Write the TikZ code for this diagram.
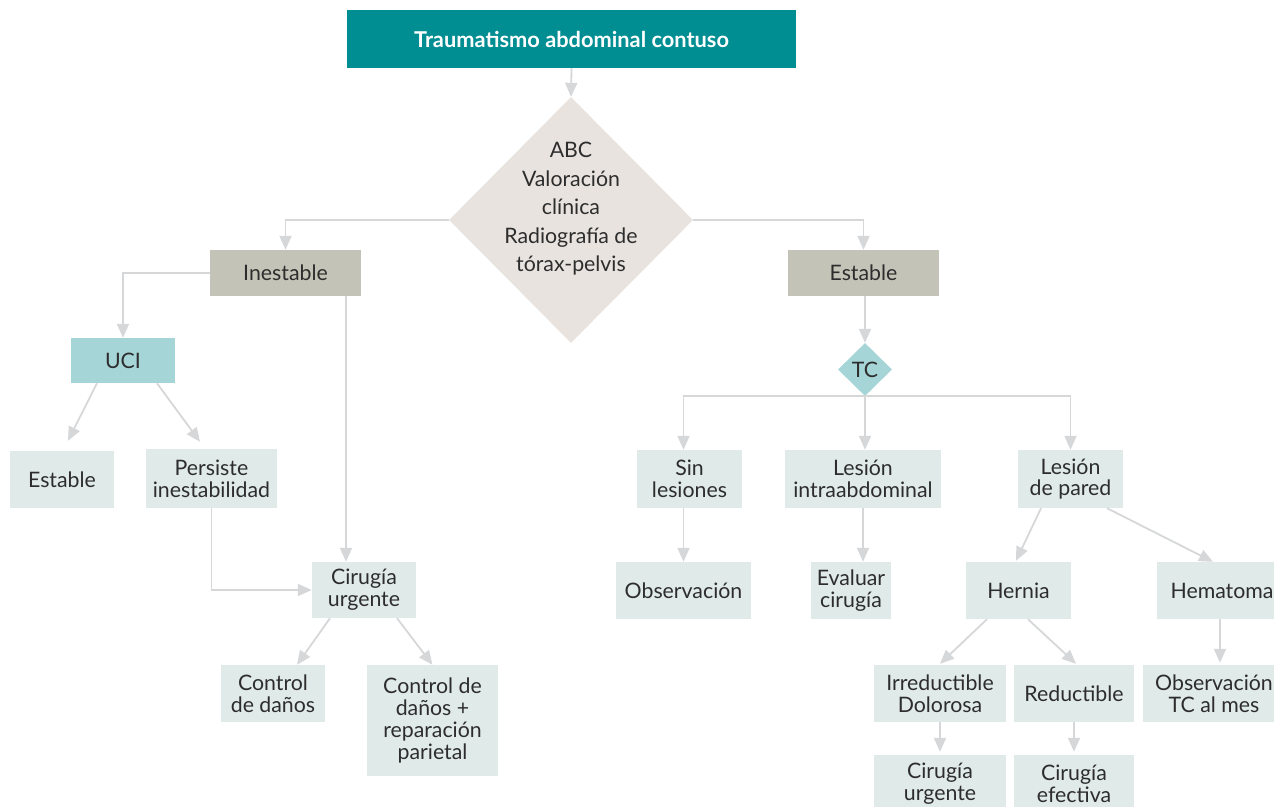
\documentclass[tikz,border=0pt]{standalone}
\usepackage{fontspec}
\setmainfont{Lato}
\usetikzlibrary{arrows.meta,shapes.geometric}
\definecolor{teal}{RGB}{0,142,147}
\definecolor{beige}{RGB}{232,227,222}
\definecolor{greybox}{RGB}{196,195,184}
\definecolor{bluebox}{RGB}{166,213,216}
\definecolor{lightbox}{RGB}{224,234,232}
\definecolor{linecol}{RGB}{213,215,217}
\definecolor{txt}{RGB}{45,45,45}
\begin{document}
\begin{tikzpicture}[x=1pt,y=1pt,
  box/.style={rectangle, inner sep=0pt, align=center, text=txt,
    font=\fontsize{21.3}{21.8}\selectfont},
  lt/.style={box, fill=lightbox},
  gr/.style={box, fill=greybox},
  bl/.style={box, fill=bluebox},
  arr/.style={draw=linecol, line width=1.8pt,
    -{Triangle[length=14pt,width=12pt,fill=linecol]}}]
\useasboundingbox (0,0) rectangle (1274,-806);
\clip (0,0) rectangle (1274,-806);

% title and first decision
\node[box, fill=teal, text=white, font=\bfseries\fontsize{21.8}{23}\selectfont,
  minimum width=449pt, minimum height=58pt] (title) at (571.5,-39) {Traumatismo abdominal contuso};
\node[diamond, fill=beige, inner sep=0pt, minimum width=244pt, minimum height=246pt] (abc) at (571,-220) {};
\node[align=center, text=txt, font=\fontsize{21.3}{28.5}\selectfont] (abctext) at ([yshift=11pt]abc.center)
  {ABC\\Valoración\\clínica\\Radiografía de\\tórax-pelvis};

% unstable branch
\node[gr, minimum width=151pt, minimum height=46pt] (inest) at (285.5,-273) {Inestable};
\node[bl, minimum width=104pt, minimum height=45pt] (uci) at (123,-360.5) {UCI};
\node[lt, minimum width=104pt, minimum height=57pt] (estL) at (62,-479.5) {Estable};
\node[lt, minimum width=131pt, minimum height=59pt] (pers) at (211.5,-478.5) {Persiste\\inestabilidad};
\node[lt, minimum width=104pt, minimum height=56pt] (cirA) at (364,-590) {Cirugía\\urgente};
\node[lt, minimum width=104pt, minimum height=57pt] (ctrl1) at (273,-693.5) {Control\\de daños};
\node[lt, minimum width=131pt, minimum height=111pt] (ctrl2) at (432.5,-720.5) {Control de\\daños +\\reparación\\parietal};

% stable branch
\node[gr, minimum width=151pt, minimum height=46pt] (estR) at (863.5,-273) {Estable};
\node[diamond, fill=bluebox, inner sep=0pt, minimum width=54pt, minimum height=53pt,
  text=txt, font=\fontsize{21.3}{21.8}\selectfont] (tc) at (865,-369.5) {TC};
\node[lt, minimum width=105pt, minimum height=58pt] (sinL) at (689.5,-479) {Sin\\lesiones};
\node[lt, minimum width=156pt, minimum height=58pt] (lesInt) at (863,-479) {Lesión\\intraabdominal};
\node[lt, minimum width=105pt, minimum height=58pt] (lesP) at (1070.5,-479) {Lesión\\de pared};
\node[lt, minimum width=135pt, minimum height=57pt] (obs) at (683.5,-590.5) {Observación};
\node[lt, minimum width=80pt, minimum height=57pt] (eval) at (851,-590.5) {Evaluar\\cirugía};
\node[lt, minimum width=105pt, minimum height=57pt] (hernia) at (1018.5,-590.5) {Hernia};
\node[lt, minimum width=130pt, minimum height=57pt] (hemat) at (1222,-590.5) {Hematoma};
\node[lt, minimum width=132pt, minimum height=57pt] (irr) at (940,-693.5) {Irreductible\\Dolorosa};
\node[lt, minimum width=120pt, minimum height=57pt] (red) at (1074,-693.5) {Reductible};
\node[lt, minimum width=142pt, minimum height=57pt] (obsTC) at (1214,-693.5) {Observación\\TC al mes};
\node[lt, minimum width=132pt, minimum height=57pt] (cirU) at (940,-783.5) {Cirugía\\urgente};
\node[lt, minimum width=120pt, minimum height=57pt] (cirE) at (1074,-783.5) {Cirugía\\efectiva};

% connectors
\draw[arr] (title.south) -- (abc.north);
\draw[arr] (abc.west) -| (inest.north);
\draw[arr] (abc.east) -| (estR.north);
\draw[arr] (inest.west) -| (uci.north);
\draw[arr] ([xshift=60.5pt]inest.south) -- ([xshift=60.5pt]inest.south |- cirA.north);
\draw[arr] ([xshift=-26pt]uci.south) -- ([xshift=6pt,yshift=10pt]estL.north);
\draw[arr] ([xshift=34pt]uci.south) -- ([xshift=-11.5pt,yshift=7pt]pers.north);
\draw[arr] (pers.south) |- (cirA.west);
\draw[arr] ([xshift=-34pt]cirA.south) -- ([xshift=24pt]ctrl1.north);
\draw[arr] ([xshift=33pt]cirA.south) -- (ctrl2.north);

\draw[arr] (estR.south -| tc.north) -- (tc.north);
\draw[arr] (tc.south) -| (obs.north |- sinL.north);
\draw[arr] (tc.south) -- (tc.south |- lesInt.north);
\draw[arr] (tc.south) -| (lesP.north);
\draw[arr] (obs.north |- sinL.south) -- (obs.north);
\draw[arr] (lesInt.south) -- (lesInt.south |- eval.north);
\draw[arr] ([xshift=-29.5pt]lesP.south) -- ([xshift=-2.5pt,yshift=1pt]hernia.north);
\draw[arr] ([xshift=36.5pt]lesP.south) -- ([xshift=-9pt]hemat.north);
\draw[arr] ([xshift=-2pt]hemat.south) -- ([xshift=-2pt,yshift=2pt]hemat.south |- obsTC.north);
\draw[arr] ([xshift=-31.5pt]hernia.south) -- ([yshift=1pt]irr.north);
\draw[arr] ([xshift=9.5pt]hernia.south) -- ([xshift=2pt,yshift=1pt]red.north);
\draw[arr] (irr.south) -- ([yshift=3pt]cirU.north);
\draw[arr] (red.south) -- ([yshift=3pt]cirE.north);
\end{tikzpicture}
\end{document}
